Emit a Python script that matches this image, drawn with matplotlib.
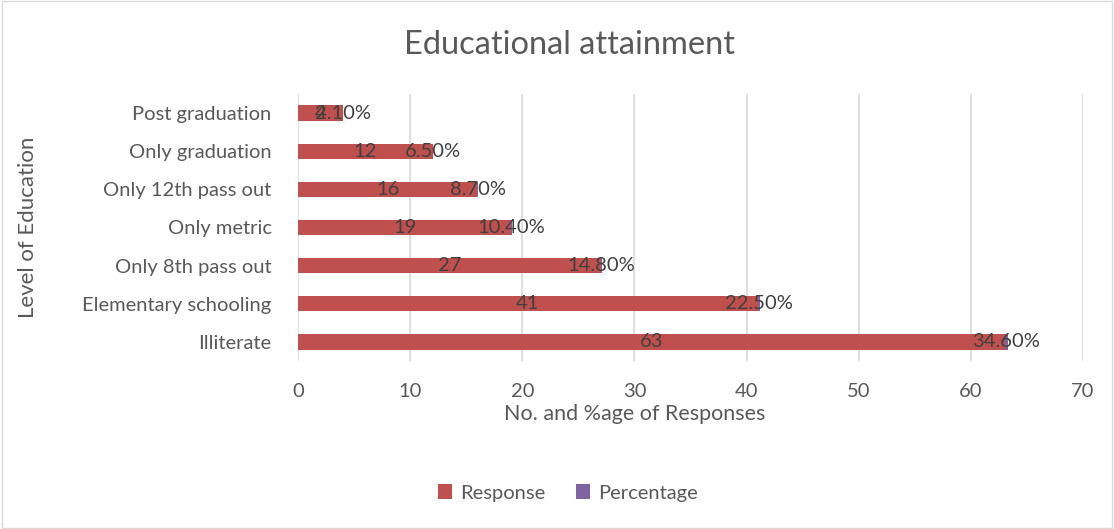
import matplotlib.pyplot as plt
from matplotlib.patches import Rectangle

# data
levels = ["Illiterate", "Elementary schooling", "Only 8th pass out", "Only metric",
          "Only 12th pass out", "Only graduation", "Post graduation"]
response = [63, 41, 27, 19, 16, 12, 4]
percentage = [0.346, 0.225, 0.148, 0.104, 0.087, 0.065, 0.021]

red = "#C0504D"
purple = "#8064A2"
txt = "#595959"

plt.rcParams['font.family'] = ['Lato', 'DejaVu Sans']

fig = plt.figure(figsize=(11.14, 5.29), dpi=100)
ax = fig.add_axes([0.2675, 0.3176, 0.7047, 0.5047])

y = list(range(len(levels)))
b1 = ax.barh(y, response, height=0.4, color=red, label="Response", zorder=2)
b2 = ax.barh(y, percentage, left=response, height=0.4, color=purple, label="Percentage", zorder=2)

# data labels (centered on each segment, like Excel)
for i in y:
    ax.text(response[i] / 2, i, str(response[i]), ha="center", va="center",
            fontsize=14.5, color="#404040", zorder=3)
    ax.text(response[i] + percentage[i] / 2, i, "%.2f%%" % (percentage[i] * 100),
            ha="center", va="center", fontsize=14.5, color="#404040", zorder=3)

ax.set_xlim(0, 70)
ax.set_ylim(-0.5, len(levels) - 0.5)
ax.set_xticks(range(0, 71, 10))
ax.set_yticks(y)
ax.set_yticklabels(levels)
ax.tick_params(axis="both", length=0, labelsize=14.5, labelcolor=txt)
ax.tick_params(axis="x", pad=16)
ax.tick_params(axis="y", pad=19)
ax.grid(axis="x", color="#D9D9D9", linewidth=1.2, zorder=0)
for s in ax.spines.values():
    s.set_visible(False)

fig.text(0.570, 0.218, "No. and %age of Responses", ha="center", va="center",
         fontsize=15.5, color=txt)
fig.text(0.025, 0.57, "Level of Education", rotation=90, ha="center", va="center",
         fontsize=16, color=txt)
fig.text(0.511, 0.915, "Educational attainment", ha="center", va="center",
         fontsize=23.5, color=txt)

leg = fig.legend(handles=[b1, b2], loc="center", bbox_to_anchor=(0.51, 0.068), ncol=2,
                 frameon=False, fontsize=14.5, handlelength=0.7, handleheight=0.7,
                 columnspacing=1.5, handletextpad=0.4)
for t in leg.get_texts():
    t.set_color(txt)

fig.patches.append(Rectangle((0.002, 0.002), 0.996, 0.996, transform=fig.transFigure,
                             fill=False, edgecolor="#D9D9D9", linewidth=1))

fig.savefig("out.png", dpi=100)
